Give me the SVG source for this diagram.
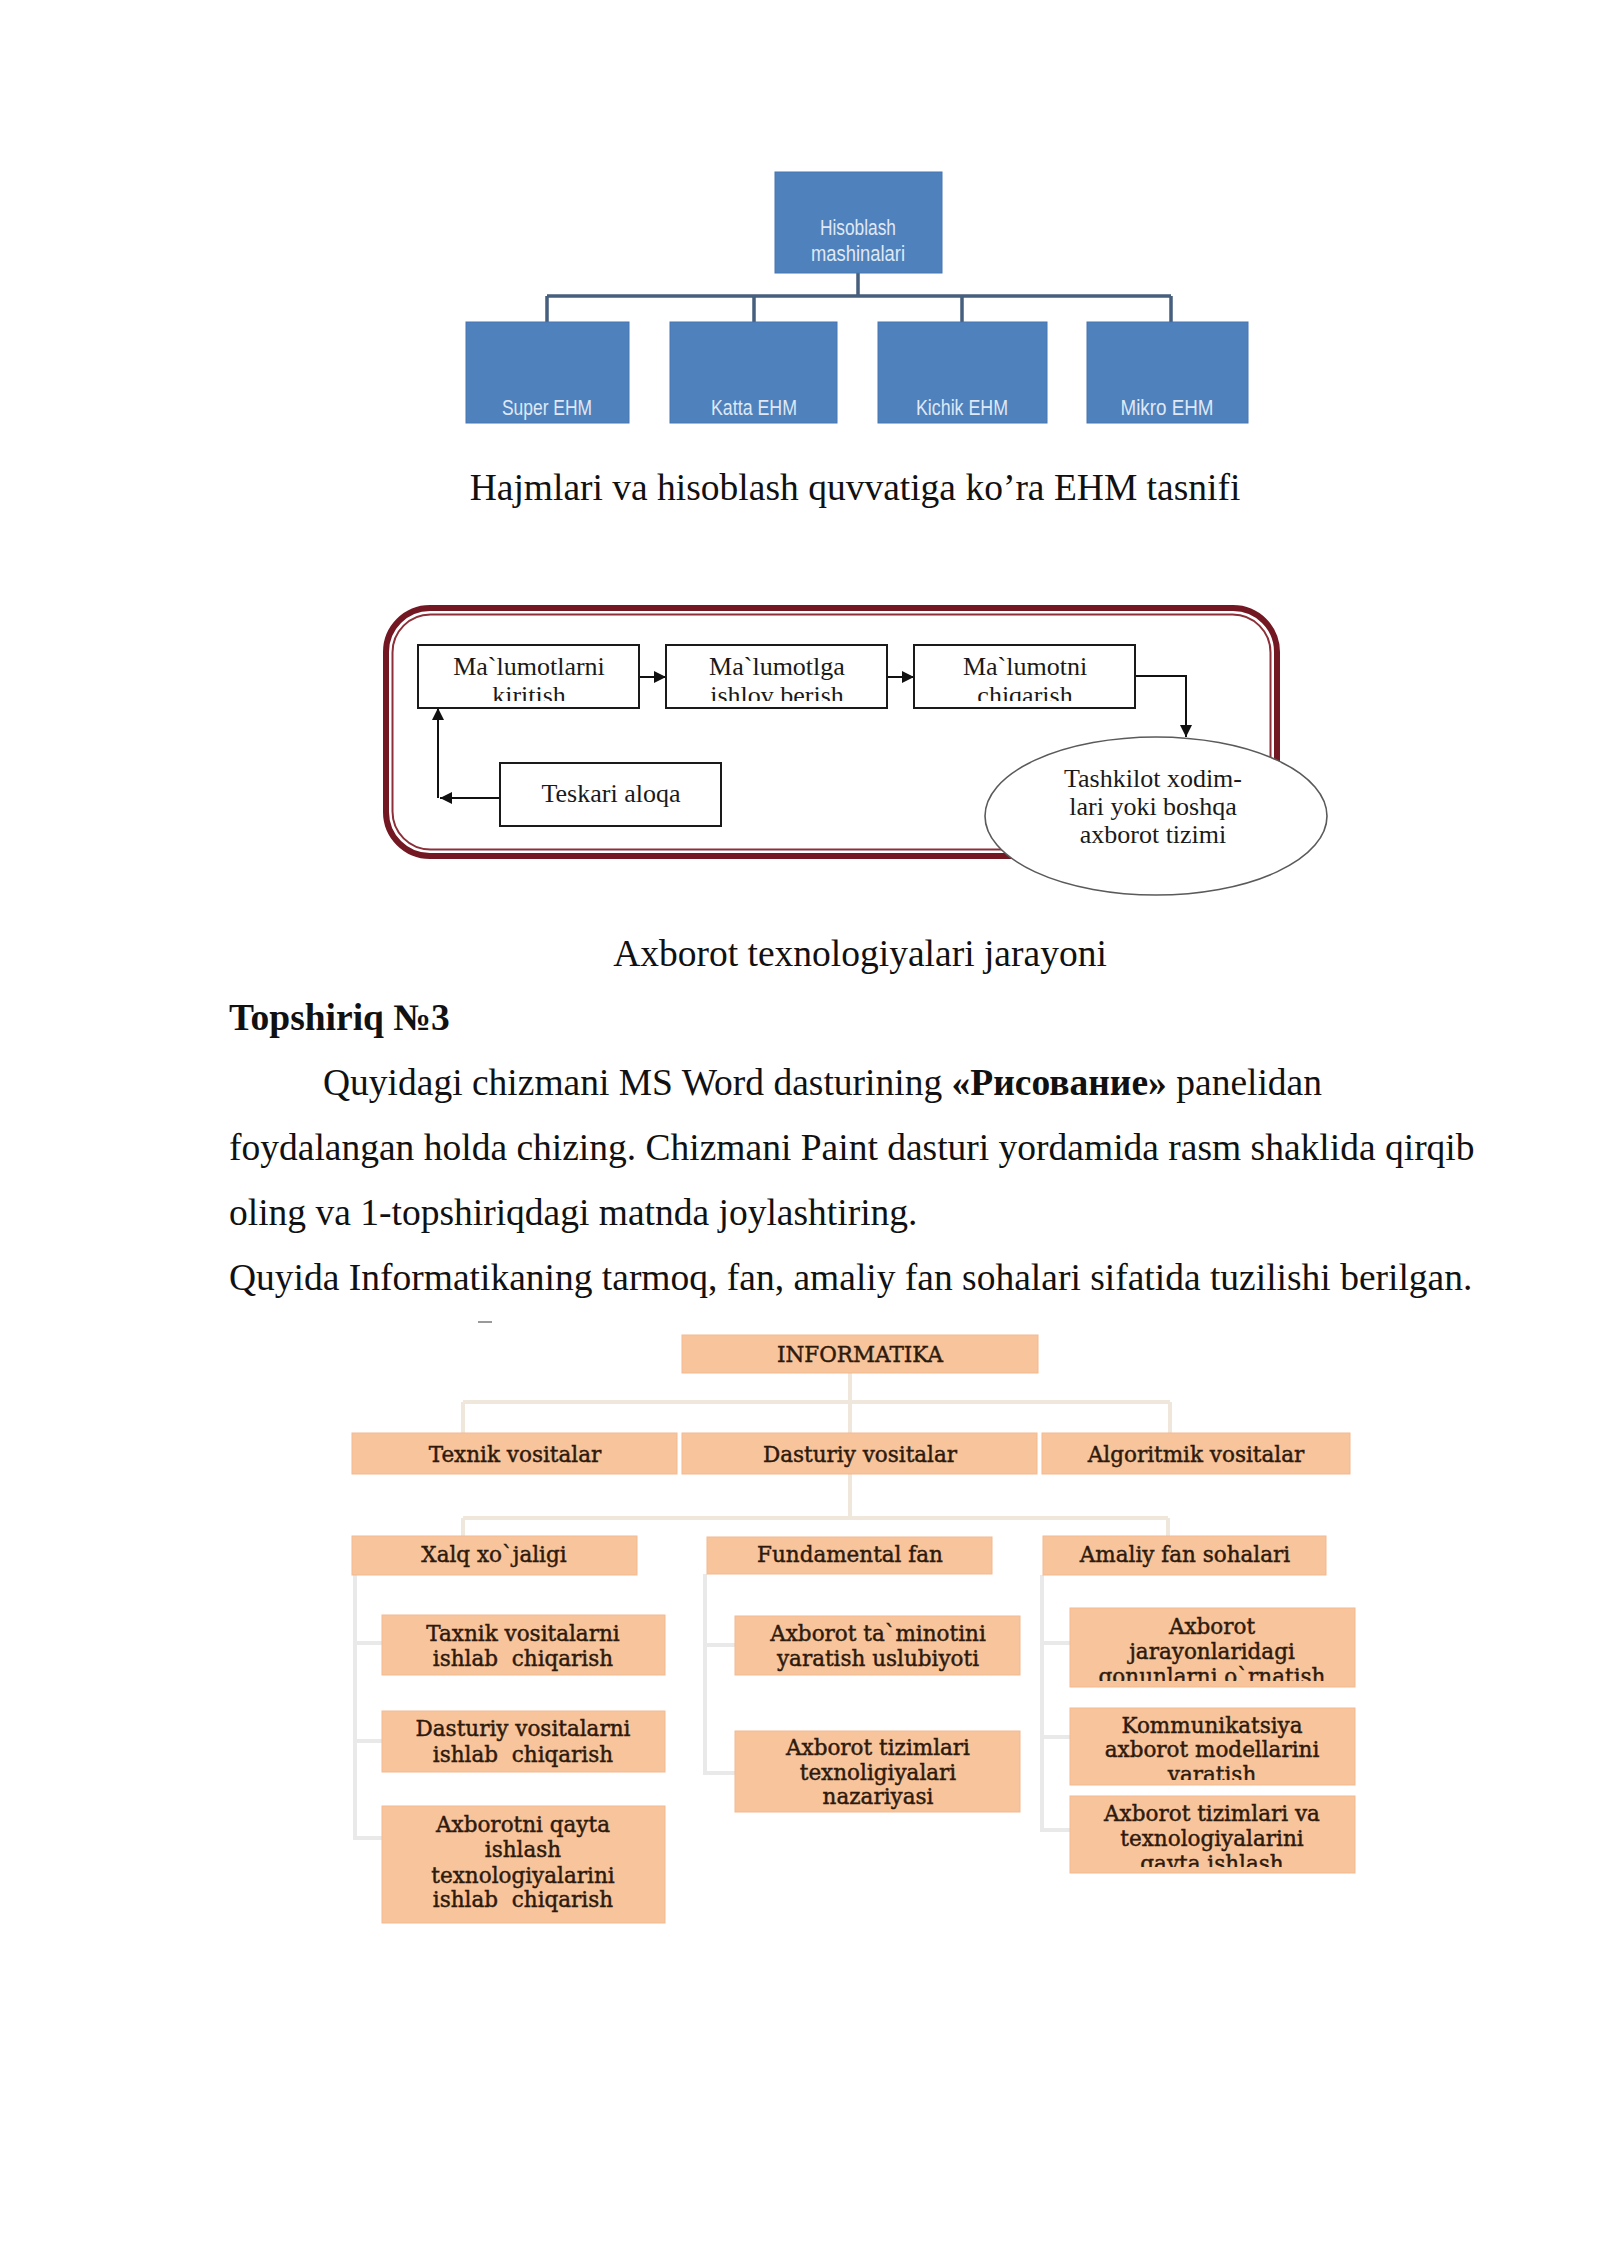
<svg xmlns="http://www.w3.org/2000/svg" width="1600" height="2262" viewBox="0 0 1600 2262">
<style>
.body{font-family:"Liberation Serif","Times New Roman",serif;font-size:37.5px;fill:#111}
.b{font-weight:bold}
.blue{fill:#4f81bd;stroke:#4676b0;stroke-width:1}
.bt{font-family:"Liberation Sans",Arial,sans-serif;font-size:22px;fill:#dfe8f4;text-anchor:middle}
.bl{fill:none;stroke:#465f7c;stroke-width:3.5}
.fb{fill:#fff;stroke:#1a1a1a;stroke-width:2}
.ft{font-family:"Liberation Serif","Times New Roman",serif;font-size:26px;fill:#1a1a1a;text-anchor:middle}
.fl{fill:none;stroke:#111;stroke-width:2}
.ob{fill:#f8c49c;stroke:#f3ba90;stroke-width:1}
.ot{font-family:"DejaVu Serif",serif;font-size:21.5px;fill:#2e1a0c;stroke:#2e1a0c;stroke-width:0.45;text-anchor:middle;white-space:pre}
.ol{fill:none;stroke:#efe6dc;stroke-width:4}
.sl{fill:none;stroke:#e9e9e9;stroke-width:4}
</style>
<defs>
<marker id="ah" viewBox="0 0 10 10" refX="10" refY="5" markerWidth="14" markerHeight="12" markerUnits="userSpaceOnUse" orient="auto">
<path d="M0,0 L10,5 L0,10 z" fill="#111"/>
</marker>
<clipPath id="c1"><rect x="416" y="644" width="224" height="57"/></clipPath>
<clipPath id="c2"><rect x="664" y="644" width="224" height="57"/></clipPath>
<clipPath id="c3"><rect x="912" y="644" width="224" height="57"/></clipPath>
<clipPath id="c4"><rect x="1068" y="1606" width="290" height="75"/></clipPath>
<clipPath id="c5"><rect x="1068" y="1706" width="290" height="74"/></clipPath>
<clipPath id="c6"><rect x="1068" y="1794" width="290" height="73"/></clipPath>
</defs>
<rect x="0" y="0" width="1600" height="2262" fill="#fff"/>

<!-- Diagram 1: Hisoblash mashinalari -->
<g id="connectors1">
<path class="bl" d="M858,273 V296 M547,296 H1171 M547,296 V322 M754,296 V322 M962,296 V322 M1171,296 V322"/>
</g>
<g id="n-hisoblash"><rect class="blue" x="775" y="172" width="167" height="101"/>
<text class="bt" x="858" y="235" textLength="76" lengthAdjust="spacingAndGlyphs">Hisoblash</text>
<text class="bt" x="858" y="261" textLength="94" lengthAdjust="spacingAndGlyphs">mashinalari</text></g>
<g id="n-super"><rect class="blue" x="466" y="322" width="163" height="101"/>
<text class="bt" x="547" y="415" textLength="90" lengthAdjust="spacingAndGlyphs">Super EHM</text></g>
<g id="n-katta"><rect class="blue" x="670" y="322" width="167" height="101"/>
<text class="bt" x="754" y="415" textLength="86" lengthAdjust="spacingAndGlyphs">Katta EHM</text></g>
<g id="n-kichik"><rect class="blue" x="878" y="322" width="169" height="101"/>
<text class="bt" x="962" y="415" textLength="92" lengthAdjust="spacingAndGlyphs">Kichik EHM</text></g>
<g id="n-mikro"><rect class="blue" x="1087" y="322" width="161" height="101"/>
<text class="bt" x="1167" y="415" textLength="93" lengthAdjust="spacingAndGlyphs">Mikro EHM</text></g>
<text class="body" x="855" y="500" text-anchor="middle">Hajmlari va hisoblash quvvatiga ko’ra EHM tasnifi</text>

<!-- Diagram 2: Axborot texnologiyalari jarayoni -->
<g id="frame2">
<rect x="386" y="608" width="891" height="248" rx="44" fill="#fff" stroke="#731822" stroke-width="6"/>
<rect x="392.5" y="614.5" width="878" height="235" rx="38" fill="none" stroke="#8c2f38" stroke-width="2"/>
</g>
<g id="connectors2">
<path class="fl" d="M639,677 H666" marker-end="url(#ah)"/>
<path class="fl" d="M887,677 H914" marker-end="url(#ah)"/>
<path class="fl" d="M1135,676 H1186 V737" marker-end="url(#ah)"/>
<path class="fl" d="M500,798 H440" marker-end="url(#ah)"/>
<path class="fl" d="M438,798 V708" stroke="#444" marker-end="url(#ah)"/>
</g>
<g id="n-kiritish"><rect class="fb" x="418" y="645" width="221" height="63"/>
<text class="ft" x="529" y="675">Ma`lumotlarni</text>
<text class="ft" x="529" y="704" clip-path="url(#c1)">kiritish</text></g>
<g id="n-ishlov"><rect class="fb" x="666" y="645" width="221" height="63"/>
<text class="ft" x="777" y="675">Ma`lumotlga</text>
<text class="ft" x="777" y="704" clip-path="url(#c2)">ishlov berish</text></g>
<g id="n-chiqarish"><rect class="fb" x="914" y="645" width="221" height="63"/>
<text class="ft" x="1025" y="675">Ma`lumotni</text>
<text class="ft" x="1025" y="704" clip-path="url(#c3)">chiqarish</text></g>
<g id="n-teskari"><rect class="fb" x="500" y="763" width="221" height="63"/>
<text class="ft" x="611" y="802">Teskari aloqa</text></g>
<g id="n-tashkilot"><ellipse cx="1156" cy="816" rx="171" ry="79" fill="#fff" stroke="#5a5a5a" stroke-width="1.6"/>
<text class="ft" x="1153" y="787">Tashkilot xodim-</text>
<text class="ft" x="1153" y="815">lari yoki boshqa</text>
<text class="ft" x="1153" y="843">axborot tizimi</text></g>
<text class="body" x="860" y="966" text-anchor="middle">Axborot texnologiyalari jarayoni</text>

<!-- Body text -->
<text class="body b" x="229" y="1030">Topshiriq №3</text>
<text class="body" x="323" y="1095">Quyidagi chizmani MS Word dasturining <tspan class="b">«Рисование»</tspan> panelidan</text>
<text class="body" x="229" y="1160">foydalangan holda chizing. Chizmani Paint dasturi yordamida rasm shaklida qirqib</text>
<text class="body" x="229" y="1225">oling va 1-topshiriqdagi matnda joylashtiring.</text>
<text class="body" x="229" y="1290">Quyida Informatikaning tarmoq, fan, amaliy fan sohalari sifatida tuzilishi berilgan.</text>
<path d="M478,1322 H492" stroke="#9a9a9a" stroke-width="2"/>

<!-- Diagram 3: Informatika -->
<g id="connectors3">
<path class="ol" d="M850,1373 V1518 M463,1402 H1170 M463,1402 V1433 M1170,1402 V1434 M463,1518 H1168 M463,1518 V1536 M1168,1518 V1536"/>
<path class="sl" d="M355,1575 V1838 H382 M355,1643 H382 M355,1741 H382 M705,1574 V1773 H735 M705,1645 H735 M1042,1575 V1830 H1070 M1042,1643 H1070 M1042,1737 H1070"/>
</g>
<g id="n-informatika"><rect class="ob" x="682" y="1335" width="356" height="38"/>
<text class="ot" x="860" y="1362">INFORMATIKA</text></g>
<g id="n-texnik"><rect class="ob" x="352" y="1433" width="325" height="41"/>
<text class="ot" x="515" y="1462">Texnik vositalar</text></g>
<g id="n-dasturiy"><rect class="ob" x="682" y="1433" width="355" height="41"/>
<text class="ot" x="860" y="1462">Dasturiy vositalar</text></g>
<g id="n-algoritmik"><rect class="ob" x="1042" y="1433" width="308" height="41"/>
<text class="ot" x="1196" y="1462">Algoritmik vositalar</text></g>
<g id="n-xalq"><rect class="ob" x="352" y="1536" width="285" height="39"/>
<text class="ot" x="494" y="1562">Xalq xo`jaligi</text></g>
<g id="n-fundamental"><rect class="ob" x="707" y="1537" width="285" height="37"/>
<text class="ot" x="850" y="1562">Fundamental fan</text></g>
<g id="n-amaliy"><rect class="ob" x="1043" y="1536" width="283" height="39"/>
<text class="ot" x="1185" y="1562">Amaliy fan sohalari</text></g>

<g id="n-taxnik"><rect class="ob" x="382" y="1615" width="283" height="60"/>
<text class="ot" x="523" y="1641">Taxnik vositalarni</text>
<text class="ot" x="523" y="1666">ishlab  chiqarish</text></g>
<g id="n-dasturiy2"><rect class="ob" x="382" y="1711" width="283" height="61"/>
<text class="ot" x="523" y="1736">Dasturiy vositalarni</text>
<text class="ot" x="523" y="1762">ishlab  chiqarish</text></g>
<g id="n-axborotni"><rect class="ob" x="382" y="1806" width="283" height="117"/>
<text class="ot" x="523" y="1832">Axborotni qayta</text>
<text class="ot" x="523" y="1857">ishlash</text>
<text class="ot" x="523" y="1883">texnologiyalarini</text>
<text class="ot" x="523" y="1907">ishlab  chiqarish</text></g>

<g id="n-taminot"><rect class="ob" x="735" y="1616" width="285" height="59"/>
<text class="ot" x="878" y="1641">Axborot ta`minotini</text>
<text class="ot" x="878" y="1666">yaratish uslubiyoti</text></g>
<g id="n-nazariya"><rect class="ob" x="735" y="1731" width="285" height="81"/>
<text class="ot" x="878" y="1755">Axborot tizimlari</text>
<text class="ot" x="878" y="1780">texnoligiyalari</text>
<text class="ot" x="878" y="1804">nazariyasi</text></g>

<g id="n-jarayon"><rect class="ob" x="1070" y="1608" width="285" height="79"/>
<text class="ot" x="1212" y="1634">Axborot</text>
<text class="ot" x="1212" y="1659">jarayonlaridagi</text>
<text class="ot" x="1212" y="1684" clip-path="url(#c4)">qonunlarni o`rnatish</text></g>
<g id="n-kommunikatsiya"><rect class="ob" x="1070" y="1708" width="285" height="77"/>
<text class="ot" x="1212" y="1733">Kommunikatsiya</text>
<text class="ot" x="1212" y="1757">axborot modellarini</text>
<text class="ot" x="1212" y="1782" clip-path="url(#c5)">yaratish</text></g>
<g id="n-qayta"><rect class="ob" x="1070" y="1796" width="285" height="77"/>
<text class="ot" x="1212" y="1821">Axborot tizimlari va</text>
<text class="ot" x="1212" y="1846">texnologiyalarini</text>
<text class="ot" x="1212" y="1871" clip-path="url(#c6)">qayta ishlash</text></g>
</svg>
